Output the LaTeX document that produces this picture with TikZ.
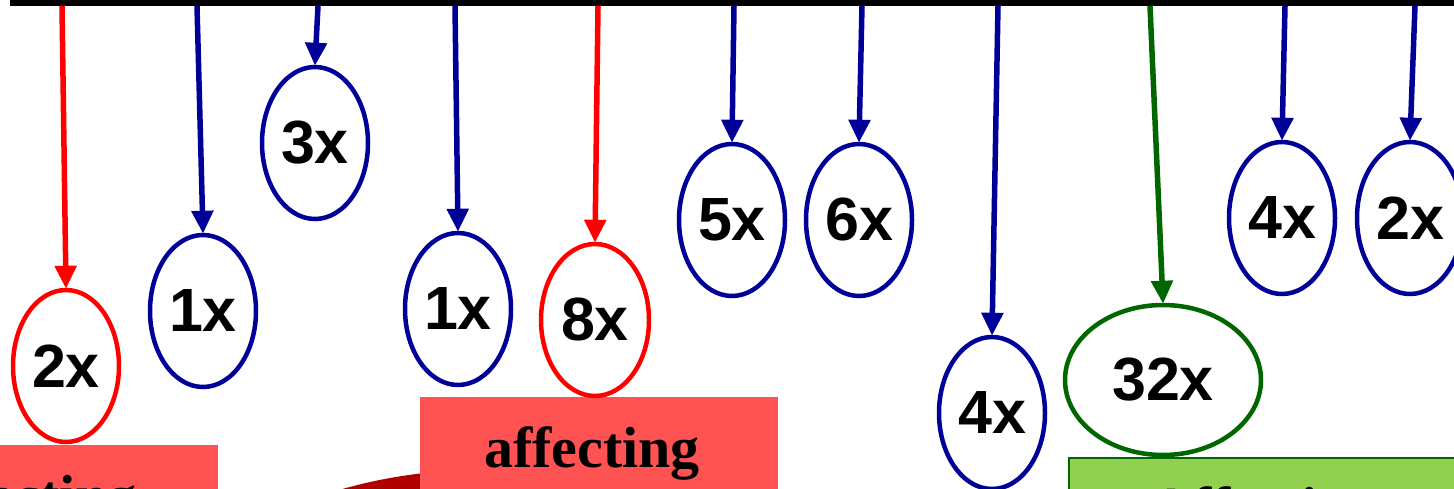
\documentclass[tikz,border=0pt]{standalone}
\usepackage{fontspec}
\setmainfont{Liberation Serif}
\setsansfont{Liberation Sans}
\usetikzlibrary{shapes.geometric,arrows.meta}
\definecolor{cblue}{RGB}{0,0,153}
\definecolor{cred}{RGB}{255,0,0}
\definecolor{cgreen}{RGB}{0,102,0}
\definecolor{boxred}{RGB}{255,83,83}
\definecolor{darkred}{RGB}{176,0,0}
\definecolor{boxgreen}{RGB}{146,208,80}
\tikzset{
  ell/.style={ellipse, draw=#1, line width=4.5pt, inner sep=0pt, minimum width=106pt, minimum height=152pt, fill=white,
    font=\sffamily\bfseries\fontsize{61}{62}\selectfont},
  conn/.style={draw=#1, line width=5.5pt, -{Triangle[length=23pt,width=21pt]}, shorten >=-1pt},
  boxtext/.style={anchor=base, inner sep=0pt, font=\rmfamily\bfseries\fontsize{58}{60}\selectfont},
}
\begin{document}
\begin{tikzpicture}[x=1pt,y=-1pt]
\useasboundingbox (0,0) rectangle (1454,489);
\clip (0,0) rectangle (1454,489);
% top bar
\fill[black] (10,0) rectangle (1454,6);
% top coordinates
\coordinate (t1) at (62,6);
\coordinate (t2) at (197,6);
\coordinate (t3) at (318,6);
\coordinate (t4) at (455,6);
\coordinate (t5) at (598,6);
\coordinate (t6) at (734,6);
\coordinate (t7) at (862,6);
\coordinate (t8) at (998,6);
\coordinate (t9) at (1150,6);
\coordinate (t10) at (1285,6);
\coordinate (t11) at (1415,6);
% dark red shape behind middle box
\fill[darkred] (480,974) circle[radius=504];
% boxes
\node[fill=boxred, minimum width=378pt, minimum height=120pt, anchor=north, inner sep=0pt] (b1) at (29,445) {};
\node[boxtext] (b1t) at (29,515) {affecting};
\node[fill=boxred, minimum width=358pt, minimum height=120pt, anchor=north west, inner sep=0pt] (b2) at (420,397) {};
\node[boxtext] (b2t) at (592,467) {affecting};
\node[fill=boxgreen, draw=cgreen, line width=1.5pt, minimum width=420pt, minimum height=120pt, anchor=north west, inner sep=0pt] (b3) at (1068,457) {};
\node[boxtext, anchor=base west] (b3t) at (1150,527) {Affecting};
% ellipses
\node[ell=cred] (e1) at (66,366) {2x};
\node[ell=cblue] (e2) at (203,311) {1x};
\node[ell=cblue] (e3) at (315,143) {3x};
\node[ell=cblue] (e4) at (458,309) {1x};
\node[ell=cred, minimum width=108pt] (e5) at (595,320) {8x};
\node[ell=cblue] (e6) at (732,220) {5x};
\node[ell=cblue] (e7) at (859,220) {6x};
\node[ell=cblue] (e8) at (992,413) {4x};
\node[ell=cgreen, minimum width=196pt, minimum height=150pt] (e9) at (1163,380) {32x};
\node[ell=cblue] (e10) at (1282,218) {4x};
\node[ell=cblue] (e11) at (1410,218) {2x};
% connectors
\draw[conn=cred] (t1) -- (e1.north);
\draw[conn=cblue] (t2) -- (e2.north);
\draw[conn=cblue] (t3) -- (e3.north);
\draw[conn=cblue] (t4) -- (e4.north);
\draw[conn=cred] (t5) -- (e5.north);
\draw[conn=cblue] (t6) -- (e6.north);
\draw[conn=cblue] (t7) -- (e7.north);
\draw[conn=cblue] (t8) -- (e8.north);
\draw[conn=cgreen] (t9) -- (e9.north);
\draw[conn=cblue] (t10) -- (e10.north);
\draw[conn=cblue] (t11) -- (e11.north);
\end{tikzpicture}
\end{document}
